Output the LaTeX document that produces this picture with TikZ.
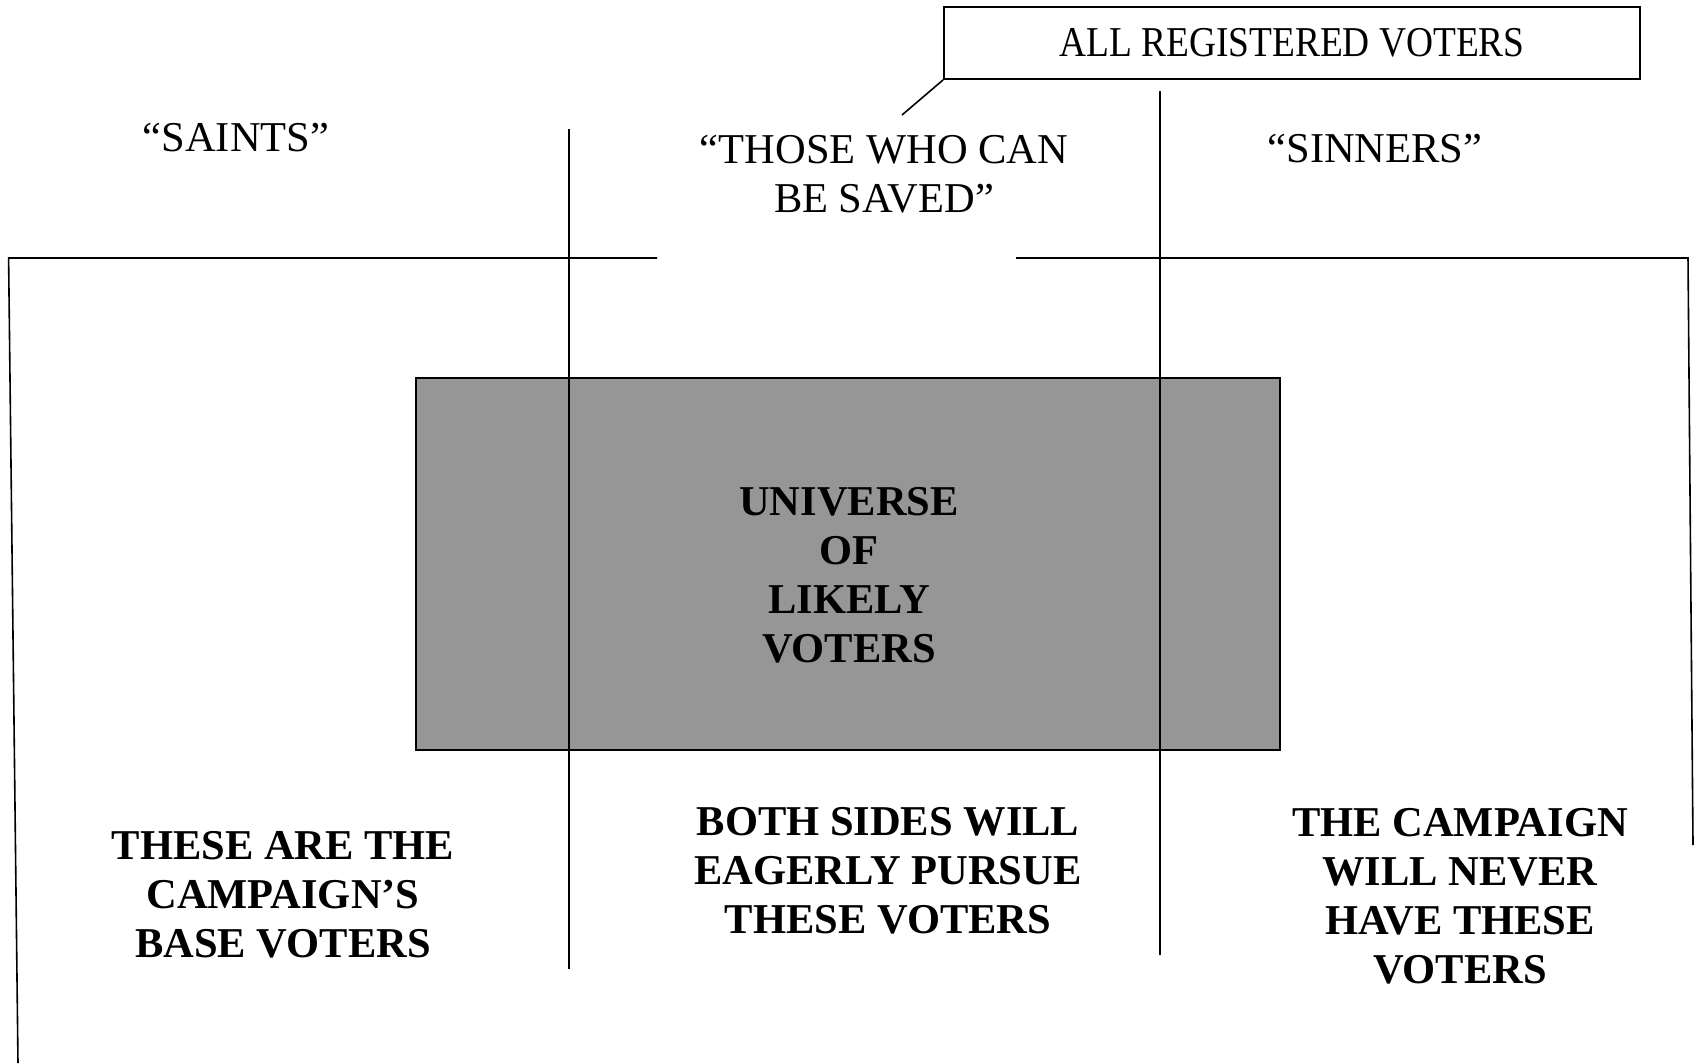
\documentclass[tikz,border=0pt]{standalone}
\usepackage{fontspec}
\setmainfont{Liberation Serif}
\definecolor{boxgray}{RGB}{150,150,150}
\begin{document}
\begin{tikzpicture}[x=1pt,y=-1pt,
  rule/.style={draw=black,line width=1.6pt},
  lbl/.style={font=\fontsize{42.5}{49}\selectfont,align=center,inner sep=0pt},
  blbl/.style={font=\fontsize{42.5}{49}\selectfont\bfseries,align=center,inner sep=0pt},
  regbox/.style={draw=black,line width=1.8pt,minimum width=696pt,minimum height=72pt,inner sep=0pt,font=\fontsize{42.5}{49}\selectfont},
  likely/.style={draw=black,line width=2pt,fill=boxgray,minimum width=864pt,minimum height=372pt,inner sep=0pt}]
\useasboundingbox (0,0) rectangle (1694,1063);
% shaded universe box
\node[likely] (univ) at (848,564) {};
% outer bracket lines
\coordinate (lgap) at (657,258);
\coordinate (ltop) at (8.6,258);
\coordinate (lbot) at (18,1063);
\coordinate (rgap) at (1016,258);
\coordinate (rtop) at (1688,258);
\coordinate (rbot) at (1693,845);
\draw[rule] (lgap) -- (ltop) -- (lbot);
\draw[rule] (rgap) -- (rtop) -- (rbot);
% dividers
\coordinate (d1t) at (569,129);
\coordinate (d1b) at (569,969);
\coordinate (d2t) at (1160,91);
\coordinate (d2b) at (1160,955);
\draw[rule] (d1t) -- (d1b);
\draw[rule] (d2t) -- (d2b);
% top box with callout
\node[regbox] (reg) at (1292,43) {\scalebox{0.88}[1]{ALL REGISTERED VOTERS}};
\coordinate (callend) at (902,115);
\draw[rule] (reg.south west) -- (callend);
% headings
\node[lbl] (saints) at (236,138) {“SAINTS”};
\node[lbl] (saved) at (884,174) {“THOSE WHO CAN\\BE SAVED”};
\node[lbl] (sinners) at (1375,149) {“SINNERS”};
% center text
\node[blbl] (univtxt) at (849,575) {UNIVERSE\\OF\\LIKELY\\VOTERS};
% bottom texts
\node[blbl] (base) at (283,895) {THESE ARE THE\\CAMPAIGN’S\\BASE VOTERS};
\node[blbl] (both) at (888,871) {BOTH SIDES WILL\\EAGERLY PURSUE\\THESE VOTERS};
\node[blbl] (never) at (1460,896) {THE CAMPAIGN\\WILL NEVER\\HAVE THESE\\VOTERS};
\end{tikzpicture}
\end{document}
